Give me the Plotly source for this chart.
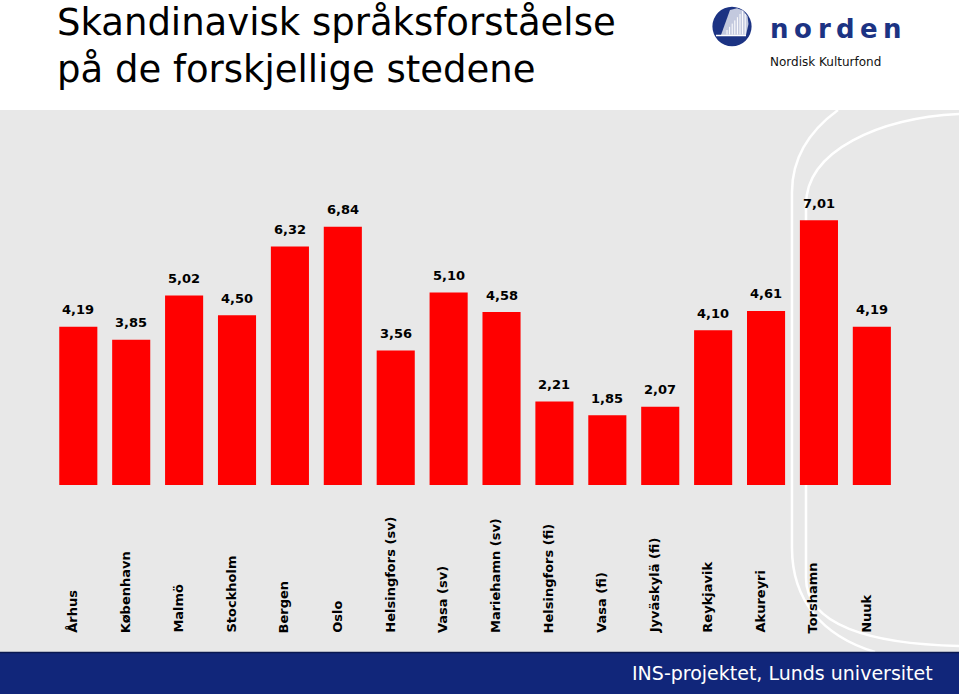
import plotly.graph_objects as go

W, H = 959, 694

categories = ["Århus", "København", "Malmö", "Stockholm", "Bergen", "Oslo",
              "Helsingfors (sv)", "Vasa (sv)", "Mariehamn (sv)", "Helsingfors (fi)",
              "Vasa (fi)", "Jyväskylä (fi)", "Reykjavik", "Akureyri", "Torshamn", "Nuuk"]
values = [4.19, 3.85, 5.02, 4.50, 6.32, 6.84, 3.56, 5.10, 4.58, 2.21,
          1.85, 2.07, 4.10, 4.61, 7.01, 4.19]
title_lines = ["Skandinavisk språksforståelse", "på de forskjellige stedene"]
footer_text = "INS-projektet, Lunds universitet"
logo_word = "norden"
logo_sub = "Nordisk Kulturfond"

NAVY = "#11267a"
LOGO_NAVY = "#1c3383"
RED = "#ff0000"
GREY = "#e8e8e8"


def px(x):
    return x / W


def py(y):
    return 1 - y / H


def path(points):
    return "M " + " L ".join(f"{px(x):.5f},{py(y):.5f}" for x, y in points) + " Z"


def bez(segs):
    out = []
    for s in segs:
        cmd = s[0]
        pts = " ".join(f"{px(x):.5f},{py(y):.5f}" for x, y in s[1:])
        out.append(f"{cmd} {pts}")
    return " ".join(out)


fig = go.Figure()
fig.add_trace(go.Bar(
    x=categories, y=values,
    marker=dict(color=RED, line=dict(width=0)),
    hoverinfo="skip",
))

shapes = []
shapes.append(dict(type="rect", xref="paper", yref="paper", layer="below",
                   x0=0, x1=1, y0=py(652), y1=py(110),
                   fillcolor=GREY, line=dict(width=0)))
shapes.append(dict(type="path", xref="paper", yref="paper", layer="below",
                   path=bez([("M", (838, 110)), ("C", (808, 132), (792, 160), (792, 192)),
                             ("L", (792, 548)), ("C", (792, 600), (822, 636), (875, 652))]),
                   line=dict(color="white", width=2.5)))
shapes.append(dict(type="path", xref="paper", yref="paper", layer="below",
                   path=bez([("M", (959, 114)), ("C", (880, 118), (806, 150), (806, 205)),
                             ("L", (806, 578)), ("C", (806, 625), (870, 644), (959, 646))]),
                   line=dict(color="white", width=2.5)))
shapes.append(dict(type="rect", xref="paper", yref="paper", layer="below",
                   x0=0, x1=1, y0=0, y1=py(652),
                   fillcolor=NAVY, line=dict(width=0)))
shapes.append(dict(type="line", xref="paper", yref="paper", layer="below",
                   x0=0, x1=1, y0=py(652.5), y1=py(652.5),
                   line=dict(color="#0a1850", width=1.5)))
shapes.append(dict(type="circle", xref="paper", yref="paper",
                   x0=px(712.4), x1=px(751.6), y0=py(46.2), y1=py(6.8),
                   fillcolor=LOGO_NAVY, line=dict(width=0)))
shapes.append(dict(type="path", xref="paper", yref="paper",
                   path=path([(730, 10), (737, 8.3), (743, 10.5), (747.5, 16), (748.5, 24),
                              (746, 35), (721, 35)]),
                   fillcolor="#c3c9de", line=dict(width=0)))
for i in range(8):
    xx = 727 + i * 2.6
    shapes.append(dict(type="line", xref="paper", yref="paper",
                       x0=px(xx), x1=px(xx), y0=py(34.5), y1=py(max(9.5, 30 - i * 3.2) if i < 7 else 14),
                       line=dict(color="white", width=1)))
shapes.append(dict(type="line", xref="paper", yref="paper",
                   x0=px(716), x1=px(746), y0=py(35.5), y1=py(35.5),
                   line=dict(color="white", width=1.5)))

annotations = []
for c, v in zip(categories, values):
    annotations.append(dict(
        x=c, y=v, xref="x", yref="y", text=f"{v:.2f}".replace(".", ","),
        showarrow=False, yanchor="middle", xanchor="center", yshift=17,
        font=dict(family="DejaVu Sans", size=13, color="black", weight="bold"),
    ))
    annotations.append(dict(
        x=c, y=py(635), xref="x", yref="paper", text=c, textangle=-90,
        showarrow=False, yanchor="bottom", xanchor="center", xshift=-6,
        font=dict(family="DejaVu Sans", size=13, color="black", weight="bold"),
    ))

annotations.append(dict(x=px(55), y=py(22.5), xref="paper", yref="paper",
                        text=title_lines[0], showarrow=False, xanchor="left", yanchor="middle",
                        font=dict(family="DejaVu Sans", size=37, color="black")))
annotations.append(dict(x=px(55), y=py(69.5), xref="paper", yref="paper",
                        text=title_lines[1], showarrow=False, xanchor="left", yanchor="middle",
                        font=dict(family="DejaVu Sans", size=37, color="black")))

letter_centers = [779.3, 803.0, 824.0, 845.3, 869.0, 892.7]
for ch, cx in zip(logo_word, letter_centers):
    annotations.append(dict(x=px(cx), y=py(29), xref="paper", yref="paper",
                            text=ch, showarrow=False, xanchor="center", yanchor="middle",
                            font=dict(family="DejaVu Sans", size=26, color=LOGO_NAVY, weight="bold")))
annotations.append(dict(x=px(768), y=py(62), xref="paper", yref="paper",
                        text=logo_sub, showarrow=False, xanchor="left", yanchor="middle",
                        font=dict(family="DejaVu Sans", size=12, color="#111111")))
annotations.append(dict(x=px(935), y=py(673), xref="paper", yref="paper",
                        text=footer_text, showarrow=False, xanchor="right", yanchor="middle",
                        font=dict(family="DejaVu Sans", size=19, color="white")))

fig.update_layout(
    width=W, height=H,
    margin=dict(l=0, r=0, t=0, b=0),
    paper_bgcolor="white", plot_bgcolor="rgba(0,0,0,0)",
    showlegend=False,
    bargap=0.28,
    xaxis=dict(type="category", range=[-0.5, 15.5], domain=[51.85 / W, 898.3 / W],
               visible=False, fixedrange=True),
    yaxis=dict(range=[0, (485 - 110) / 37.75], domain=[py(485), py(110)],
               visible=False, fixedrange=True),
    shapes=shapes,
    annotations=annotations,
)

fig.write_html("out.html", config={"displayModeBar": False},
               post_script="document.body.style.margin='0';document.body.style.overflow='hidden';")
